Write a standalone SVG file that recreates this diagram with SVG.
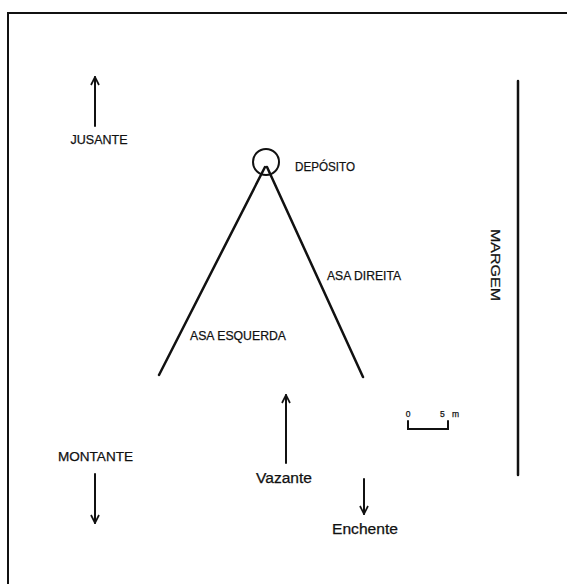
<svg xmlns="http://www.w3.org/2000/svg" width="567" height="584" viewBox="0 0 567 584">
<style>
.t{font-family:"Liberation Sans",Arial,sans-serif;fill:#111;stroke:#111;stroke-width:0.25;}
.ln{stroke:#111;fill:none;stroke-linecap:round;}
</style>
<defs>
<marker id="ah" viewBox="0 0 10 10" refX="9" refY="5" markerWidth="10" markerHeight="10" markerUnits="userSpaceOnUse" orient="auto">
<polyline points="1,1 9,5 1,9" fill="none" stroke="#111" stroke-width="1.7"/>
</marker>
</defs>
<rect width="567" height="584" fill="#fff"/>
<g id="frame">
<polyline class="ln" points="8,584 8,13 567,13" stroke-width="2"/>
</g>
<g id="deposito">
<circle cx="266" cy="162" r="13" class="ln" stroke-width="2"/>
<text class="t" x="295" y="171" font-size="13" textLength="60" lengthAdjust="spacingAndGlyphs">DEPÓSITO</text>
</g>
<g id="asa-esquerda">
<line class="ln" x1="265" y1="167" x2="159" y2="375" stroke-width="2.5"/>
<text class="t" x="190" y="340" font-size="13" textLength="96" lengthAdjust="spacingAndGlyphs">ASA ESQUERDA</text>
</g>
<g id="asa-direita">
<line class="ln" x1="267" y1="167" x2="363" y2="377" stroke-width="2.5"/>
<text class="t" x="327" y="280" font-size="13" textLength="74" lengthAdjust="spacingAndGlyphs">ASA DIREITA</text>
</g>
<g id="margem">
<line class="ln" x1="518" y1="81" x2="518" y2="475" stroke-width="2.5"/>
<text class="t" transform="translate(491,265) rotate(90)" text-anchor="middle" font-size="13" textLength="72" lengthAdjust="spacingAndGlyphs">MARGEM</text>
</g>
<g id="jusante">
<text class="t" x="99" y="143.5" text-anchor="middle" font-size="13" textLength="57" lengthAdjust="spacingAndGlyphs">JUSANTE</text>
</g>
<g id="montante">
<text class="t" x="95.5" y="461" text-anchor="middle" font-size="13" textLength="75" lengthAdjust="spacingAndGlyphs">MONTANTE</text>
</g>
<g id="vazante">
<text class="t" x="284" y="483" text-anchor="middle" font-size="14" textLength="56" lengthAdjust="spacingAndGlyphs">Vazante</text>
</g>
<g id="enchente">
<text class="t" x="365" y="533.5" text-anchor="middle" font-size="14" textLength="66" lengthAdjust="spacingAndGlyphs">Enchente</text>
</g>
<g id="escala">
<polyline class="ln" points="408,421 408,429 448,429 448,421" stroke-width="2" stroke-linecap="butt"/>
<text class="t" x="408" y="417" text-anchor="middle" font-size="8.5">0</text>
<text class="t" x="440" y="417" font-size="8.5" textLength="19" lengthAdjust="spacing">5 m</text>
</g>
<g id="connectors">
<line class="ln" x1="95" y1="126" x2="95" y2="77" stroke-width="2" marker-end="url(#ah)"/>
<line class="ln" x1="95" y1="474" x2="95" y2="523" stroke-width="2" marker-end="url(#ah)"/>
<line class="ln" x1="286" y1="463" x2="286" y2="395" stroke-width="2" marker-end="url(#ah)"/>
<line class="ln" x1="364" y1="479" x2="364" y2="514" stroke-width="2" marker-end="url(#ah)"/>
</g>
</svg>
